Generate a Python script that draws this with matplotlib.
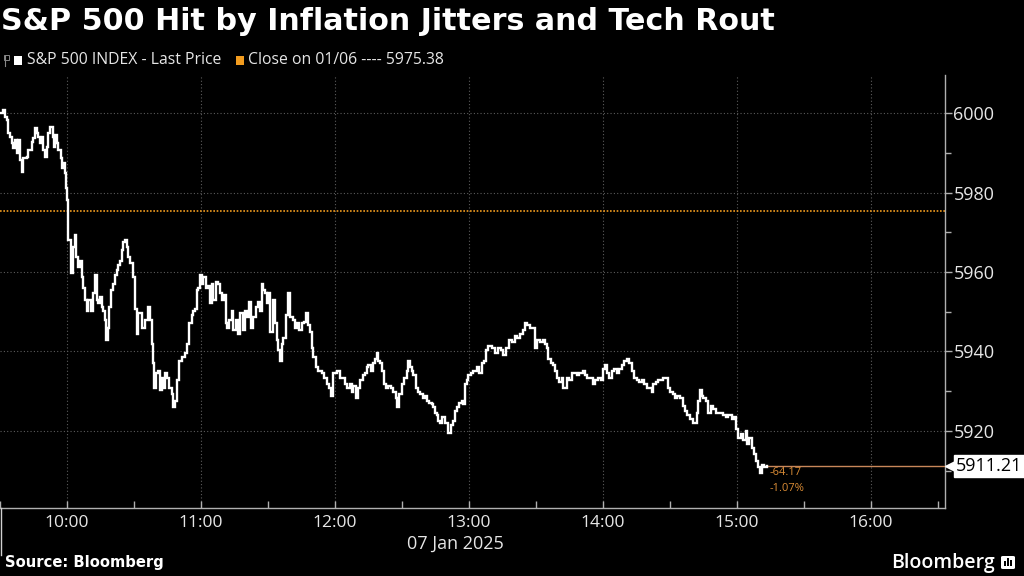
import matplotlib
matplotlib.use("Agg")
import matplotlib.pyplot as plt
import matplotlib.transforms as mtransforms
from matplotlib.patches import Rectangle, FancyBboxPatch
from matplotlib.lines import Line2D
from matplotlib.ticker import MultipleLocator, FixedLocator, FuncFormatter

# ---------------- data ----------------
title = "S&P 500 Hit by Inflation Jitters and Tech Rout"
series_label = "S&P 500 INDEX - Last Price"
close_label = "Close on 01/06 ---- 5975.38"
date_label = "07 Jan 2025"
source_label = "Source: Bloomberg"
prev_close = 5975.38
last_price = 5911.21
change_abs = "-64.17"
change_pct = "-1.07%"

# minutes after 09:30 (intraday)
minutes = [
    0.0, 1.3, 2.2, 3.1, 3.6, 4.5, 5.4, 5.8, 6.7, 7.6, 8.1, 9.0, 9.9, 10.3, 12.1, 12.5,
    14.3, 14.8, 15.7, 16.6, 17.0, 17.9, 18.8, 19.3, 20.2, 21.0, 21.5, 22.4, 23.3, 23.7,
    24.2, 24.6, 25.5, 26.0, 26.9, 27.3, 27.8, 28.7, 29.1, 29.6, 30.0, 30.4, 31.3, 31.8,
    32.7, 33.6, 34.0, 34.9, 35.8, 36.7, 37.2, 38.1, 39.0, 39.4, 40.7, 41.6, 42.5, 43.4,
    43.9, 44.8, 45.7, 46.1, 47.0, 47.5, 48.4, 48.8, 49.7, 50.6, 51.5, 52.4, 52.8, 53.7,
    54.6, 55.1, 56.0, 56.9, 57.3, 58.2, 59.6, 60.5,
    61.3, 61.8, 63.6, 64.9, 66.3, 67.2, 68.1, 68.5, 69.0, 69.9, 70.8, 71.6, 72.5, 73.0,
    73.9, 74.8, 75.7, 77.0, 77.5, 78.4, 79.3, 80.2, 81.5, 82.8, 83.7, 84.6, 86.0, 86.4,
    87.3, 88.2, 88.7, 89.6, 90.5, 90.9, 92.2, 93.1, 94.0, 94.9, 95.4, 96.7, 97.6, 98.5,
    99.4, 100.3, 101.2, 101.7, 102.5, 103.9, 104.3, 105.7, 106.6, 107.5, 108.8, 109.7,
    110.6, 111.5, 112.4, 113.3, 114.6, 115.5, 116.4, 117.3, 117.8,
    118.7, 119.6, 120.0, 120.9, 122.2, 123.1, 124.0, 124.5, 125.4, 126.3, 126.7, 128.1,
    129.0, 129.9, 131.2, 132.1, 133.0, 133.9, 135.2, 136.1, 137.0, 137.9, 138.8, 139.7,
    140.2, 141.5, 142.4, 144.2, 145.1, 146.4, 147.3, 148.2, 149.1, 150.0, 150.9, 152.3,
    153.6, 154.5, 155.4, 156.7, 157.6, 158.1, 159.4, 160.3, 161.2, 162.6, 163.4, 164.3,
    164.8, 166.1, 167.0, 167.9, 168.8, 169.3, 170.2, 171.1, 172.0, 172.9, 173.7, 175.1,
    176.0, 177.3, 177.8, 178.7, 180.0, 180.9, 182.3, 182.7, 183.6, 184.5, 184.9, 186.3,
    187.2, 188.1, 189.4, 190.3, 191.2, 192.1, 193.4, 193.9, 194.8, 195.7, 196.1, 197.0,
    197.9, 199.3, 200.6, 202.0, 202.9, 203.7, 204.6, 205.5, 206.9, 207.3, 208.2, 209.1,
    209.6, 210.9, 211.8, 213.6, 214.5, 215.8, 216.7, 217.6, 218.5, 220.3, 221.7, 223.0,
    224.3, 225.2, 226.6, 227.9, 229.3, 230.6, 231.5, 232.9, 234.2, 235.1, 236.0, 237.3,
    238.7, 239.6, 240.5, 241.8, 243.2, 244.1, 244.9, 245.4, 246.7, 247.6, 248.5, 249.4,
    250.3, 251.7, 252.1, 253.9, 254.8, 256.1, 257.0, 258.4, 259.3, 261.1, 262.0, 262.9,
    264.2, 265.5, 266.4, 267.8, 269.1, 270.0, 270.9, 271.8, 272.7, 274.1, 274.9, 276.3,
    277.2, 278.5, 279.4, 280.8, 281.7, 283.0, 283.9, 285.2, 286.1, 287.5, 288.4, 289.7,
    290.6, 292.0, 292.4, 293.8, 294.7, 296.0, 296.9, 298.7, 299.1, 300.0, 301.4, 302.3,
    303.2, 304.5, 305.8, 306.7, 307.6, 309.0, 310.3, 311.2, 312.1, 312.6, 313.5, 314.4,
    314.8, 316.1, 317.0, 318.4, 319.3, 320.6, 321.5, 322.9, 323.8, 325.1, 326.0, 327.8,
    328.7, 329.6, 330.5, 331.8, 332.7, 334.1, 334.5, 335.4, 336.7, 337.6, 338.5, 339.4,
    340.3, 341.2, 342.1, 343.5,
]

prices = [
    6000.0, 6000.8, 5999.0, 5998.2, 5995.0, 5994.0, 5992.4, 5991.2, 5993.2, 5989.9, 5993.2, 5988.2, 5985.1, 5988.7, 5988.9, 5990.7,
    5992.7, 5993.7, 5996.2, 5995.0, 5994.0, 5992.4, 5994.0, 5990.7, 5988.9, 5991.4, 5995.0, 5996.5, 5996.5, 5994.0,
    5991.4, 5994.5, 5992.4, 5990.7, 5990.7, 5988.7, 5986.1, 5987.4, 5984.9, 5981.1, 5978.1, 5968.0, 5968.0, 5959.7,
    5966.2, 5969.2, 5963.7, 5961.2, 5962.9, 5958.7, 5956.1, 5952.9, 5950.3, 5952.9, 5950.3, 5954.6, 5959.2, 5952.9,
    5952.1, 5953.6, 5951.1, 5950.3, 5947.8, 5942.8, 5946.0, 5951.1, 5955.4, 5957.1, 5959.2, 5960.4, 5961.7, 5962.9,
    5965.5, 5967.5, 5968.0, 5966.2, 5963.7, 5962.2, 5958.7, 5950.8,
    5944.5, 5949.6, 5946.0, 5947.8, 5951.1, 5947.8, 5942.0, 5937.0, 5930.9, 5934.5, 5935.2, 5930.2, 5933.4, 5930.9,
    5934.5, 5933.4, 5930.7, 5929.4, 5925.9, 5927.6, 5932.7, 5937.7, 5938.5, 5939.5, 5942.0, 5947.1, 5949.1, 5950.3,
    5950.8, 5955.4, 5956.1, 5959.2, 5957.1, 5958.7, 5955.9, 5956.6, 5952.1, 5957.1, 5952.9, 5957.4, 5957.1, 5954.6,
    5952.9, 5954.1, 5947.1, 5946.0, 5947.8, 5950.3, 5945.3, 5947.8, 5944.5, 5949.6, 5945.3, 5950.3,
    5948.6, 5952.4, 5945.8, 5948.6, 5951.1, 5952.4, 5950.3, 5957.1, 5955.4,
    5954.6, 5952.1, 5954.6, 5944.8, 5952.9, 5947.1, 5942.8, 5940.3, 5937.7, 5942.0, 5943.5, 5949.1,
    5954.6, 5948.6, 5947.8, 5945.8, 5947.1, 5945.3, 5947.1, 5947.3, 5949.6, 5946.6, 5944.8, 5941.0,
    5938.5, 5936.0, 5935.2, 5934.5, 5933.2, 5931.9, 5930.7, 5928.9, 5934.7, 5934.5, 5935.2, 5933.4,
    5933.2, 5931.9, 5930.9, 5931.9, 5929.7, 5931.4, 5928.4, 5930.7, 5932.7, 5934.0, 5934.7, 5936.0,
    5936.5, 5935.2, 5937.2, 5938.2, 5939.5, 5937.7, 5937.0, 5935.2, 5931.9, 5930.7, 5931.4, 5930.7,
    5929.7, 5928.4, 5925.9, 5929.4, 5931.9, 5933.4, 5935.2, 5937.7, 5936.0, 5935.2, 5934.0, 5930.9,
    5929.7, 5929.4, 5928.4, 5928.9, 5927.6, 5927.1, 5926.9, 5925.9, 5924.6, 5923.9, 5922.6, 5922.1,
    5923.4, 5922.1, 5919.6, 5921.4, 5922.6, 5925.1, 5925.9, 5927.1, 5927.6, 5926.9, 5931.9, 5932.7,
    5934.0, 5934.7, 5935.2, 5936.0, 5934.7, 5937.0, 5937.7, 5940.3, 5941.5, 5940.8, 5939.7, 5941.0,
    5940.3, 5939.0, 5941.0, 5942.8, 5942.3, 5944.0, 5943.5, 5944.5, 5945.3, 5947.1, 5946.6, 5946.0,
    5945.8, 5941.0, 5942.8, 5942.3, 5942.8, 5942.0, 5941.0, 5938.2, 5937.2, 5936.5, 5935.2, 5933.2,
    5932.2, 5933.2, 5930.9, 5933.2, 5932.7, 5934.7, 5934.5, 5934.0, 5934.5, 5935.2, 5934.0, 5933.4,
    5933.2, 5931.9, 5932.7, 5933.2, 5932.7, 5935.7, 5936.5, 5934.5, 5933.4, 5935.2, 5935.7, 5934.7,
    5935.7, 5936.5, 5937.7, 5938.2, 5937.2, 5935.2, 5933.2, 5932.7, 5932.2, 5932.7, 5931.9, 5930.9,
    5930.7, 5929.7, 5931.9, 5932.2, 5932.7, 5932.7, 5933.2, 5933.4, 5930.9, 5929.7, 5929.4, 5928.4,
    5928.9, 5928.2, 5926.4, 5925.1, 5923.9, 5923.1, 5921.9, 5921.9, 5924.4, 5927.6, 5930.2, 5928.9,
    5928.2, 5927.6, 5924.4, 5926.4, 5925.6, 5924.6, 5924.4, 5924.6, 5923.9, 5923.4, 5923.9, 5923.1,
    5923.4, 5920.6, 5918.3, 5919.3, 5917.6, 5920.1, 5916.8, 5918.1, 5915.8, 5914.3, 5912.5, 5910.8,
    5909.5, 5911.3, 5910.8, 5911.21,
]

hour_ticks = [10, 11, 12, 13, 14, 15, 16]
y_ticks = [5920, 5940, 5960, 5980, 6000]

# ---------------- style ----------------
BG = "black"
FG = "#e6e6e6"
GRID = "#5c5c5c"
ORANGE = "#f29c1f"
CHG = "#d98b35"
LASTLINE = "#c8875a"

fig = plt.figure(figsize=(10.24, 5.76), dpi=100, facecolor=BG)
ax = fig.add_axes([0.0, 1 - 508 / 576, 945 / 1024, (508 - 75) / 576])
ax.set_facecolor(BG)

hours = [9.5 + m / 60.0 for m in minutes]

ax.set_xlim(9.5, 9.5 + 945 / 134)
ax.set_ylim(5900.6, 6009.6)

# grid
for h in hour_ticks:
    ax.axvline(h, color=GRID, lw=0.8, ls=(0, (1, 2)), zorder=1)
for yv in y_ticks:
    ax.axhline(yv, color=GRID, lw=0.8, ls=(0, (1, 2)), zorder=1)

# previous close
ax.axhline(prev_close, color=ORANGE, lw=1.2, ls=(0, (1, 1)), zorder=2)

# price line
ax.plot(hours, prices, color="white", lw=1.7, drawstyle="steps-post", zorder=4,
        solid_joinstyle="miter")

# last price line to axis
ax.plot([hours[-1], ax.get_xlim()[1]], [last_price, last_price], color=LASTLINE, lw=1.0, zorder=3)

# change annotations
ax.annotate(change_abs, xy=(hours[-1], last_price), xytext=(2, -5), textcoords="offset points",
            color=CHG, fontsize=8, family="Open Sans", ha="left", va="center")
ax.annotate(change_pct, xy=(hours[-1], last_price), xytext=(2, -16), textcoords="offset points",
            color=CHG, fontsize=8, family="Open Sans", ha="left", va="center")

# spines
for s in ["left", "top"]:
    ax.spines[s].set_visible(False)
for s in ["right", "bottom"]:
    ax.spines[s].set_color("#b0b0b0")
    ax.spines[s].set_linewidth(1.0)

# y axis on right
ax.yaxis.tick_right()
ax.yaxis.set_major_locator(FixedLocator(y_ticks))
ax.yaxis.set_minor_locator(MultipleLocator(10))
ax.tick_params(axis="y", which="both", direction="out", colors="#b0b0b0", labelcolor=FG,
               labelsize=13, length=5, width=1, pad=1)
ax.tick_params(axis="y", which="minor", length=4)
for lab in ax.get_yticklabels():
    lab.set_family("Open Sans")

# x axis
ax.xaxis.set_major_locator(FixedLocator(hour_ticks))
ax.xaxis.set_minor_locator(MultipleLocator(0.5))
ax.xaxis.set_major_formatter(FuncFormatter(lambda v, p: f"{int(v)}:00"))
ax.tick_params(axis="x", which="both", direction="in", colors="#b0b0b0", labelcolor=FG,
               labelsize=12.5, length=5, width=1, pad=5)
for lab in ax.get_xticklabels():
    lab.set_family("Open Sans")

# last price tag
trans = mtransforms.blended_transform_factory(ax.transAxes, ax.transData)
ax.annotate(f"{last_price:.2f}", xy=(1.0, last_price), xycoords=trans,
            xytext=(8, 0), textcoords="offset points", ha="left", va="center",
            fontsize=13, family="Open Sans", color="black", annotation_clip=False,
            bbox=dict(boxstyle="square,pad=0.12", fc="white", ec="white"), zorder=10)
ax.plot([1.0 + 4.5 / 945], [last_price], marker="<", ms=7, color="white", mec="white",
        transform=trans, clip_on=False, zorder=10)

# figure texts
fig.text(0.001, 1 - 21 / 576, title, color="white", fontsize=21.7, fontweight="bold",
         family="DejaVu Sans", ha="left", va="center")

ly = 1 - 60 / 576
fig.patches.append(Rectangle((14 / 1024, ly - 4.5 / 576), 8 / 1024, 9 / 576, transform=fig.transFigure,
                             fc="white", ec="none"))
fig.text(27 / 1024, ly, series_label, color=FG, fontsize=11.3, family="Open Sans", ha="left", va="center")
fig.patches.append(Rectangle((236 / 1024, ly - 4.5 / 576), 8 / 1024, 9 / 576, transform=fig.transFigure,
                             fc=ORANGE, ec="none"))
fig.text(248 / 1024, ly, close_label, color=FG, fontsize=11.3, family="Open Sans", ha="left", va="center")
# small tree icon
fig.lines.append(Line2D([5 / 1024, 5 / 1024], [ly - 6 / 576, ly + 4 / 576], transform=fig.transFigure,
                        color="#888888", lw=0.8))
fig.patches.append(Rectangle((4 / 1024, ly + 0 / 576), 5 / 1024, 5 / 576, transform=fig.transFigure,
                             fc="none", ec="#888888", lw=0.7))

fig.text(455 / 1024, 1 - 544 / 576, date_label, color=FG, fontsize=13, family="Open Sans",
         ha="center", va="center")
fig.lines.append(Line2D([0.5 / 1024, 0.5 / 1024], [1 - 508 / 576, 1 - 555 / 576], transform=fig.transFigure,
                        color="#d0d0d0", lw=1.0))

fig.text(5 / 1024, 1 - 563 / 576, source_label, color="white", fontsize=10.6, fontweight="bold",
         family="DejaVu Sans", ha="left", va="center")
fig.text(995 / 1024, 1 - 563 / 576, "Bloomberg", color="white", fontsize=14, fontweight="semibold",
         family="Open Sans", ha="right", va="center")
fig.patches.append(FancyBboxPatch((1001 / 1024, 1 - 569 / 576), 14 / 1024, 13 / 576,
                                  boxstyle="round,pad=0,rounding_size=0.002", transform=fig.transFigure,
                                  fc="white", ec="none"))
for i, hgt in enumerate([5, 8, 6]):
    fig.patches.append(Rectangle(((1004 + i * 3.2) / 1024, 1 - 566 / 576), 1.8 / 1024, hgt / 576,
                                 transform=fig.transFigure, fc="black", ec="none"))

fig.savefig("out.png", dpi=100, facecolor=BG)
